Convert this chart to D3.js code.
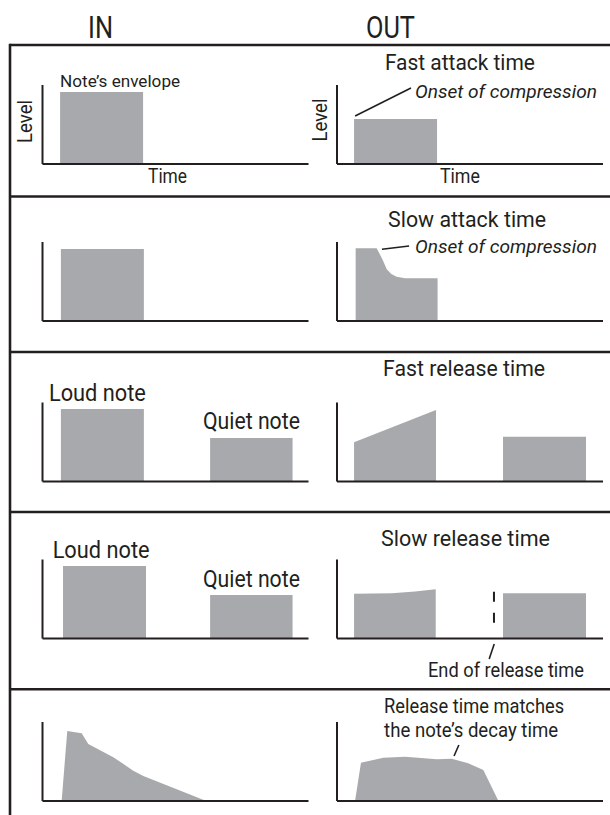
<!DOCTYPE html>
<html><head><meta charset="utf-8">
<script src="https://cdn.jsdelivr.net/npm/d3@7"></script>
<style>
body{margin:0;background:#fff}
svg{display:block}
text{font-family:Roboto,"Liberation Sans",Arial,sans-serif;fill:#231f20}
</style>
</head><body>
<svg id="chart" width="610" height="815"></svg>
<script>
// ---------- DATA ----------
const columns = ["IN", "OUT"];
const rowNames = ["Fast attack", "Slow attack", "Fast release", "Slow release", "Decay matched"];
// Envelope shapes: arrays of [time, level] (time 0-100 along axis, level 0-100 up axis)
const inRow1  = [[[6.8, 90.5], [38, 90.5]]];
const outRow1 = [[[6.6, 56.3], [37.8, 56.3]]];
const inRow2  = [[[7.1, 90.5], [38.3, 90.5]]];
const outRow2 = [[[7.2, 91.4], [15.1, 91.4], [17.2, 78], [18.9, 64.8], [20.6, 59], [22.6, 55.4], [25.8, 53.4], [38, 53.4]]];
const inRow3  = [[[7.1, 91.1], [38.3, 91.1]], [[63.2, 54.4], [94.2, 54.4]]];
const outRow3 = [[[6.6, 49], [37.4, 89.9]], [[62.6, 56.1], [93.8, 56.1]]];
const inRow4  = [[[7.9, 91.1], [39.1, 91.1]], [[63.2, 54.4], [94.2, 54.4]]];
const outRow4 = [[[6.6, 56.1], [20.8, 56.6], [29.5, 58.9], [37.3, 61.6]], [[62.6, 56.6], [93.8, 56.6]]];
const inRow5  = [[[7.4, 0], [9.5, 88], [14.9, 85.1], [17.4, 71.5], [26.8, 54.7], [30.5, 46.5], [34.3, 37.7], [38.1, 31], [61.3, 0]]];
const outRow5 = [[[7, 0], [9.2, 47.8], [17.6, 54.2], [25.8, 55.4], [37.7, 52.2], [43.3, 52.9], [49.5, 47.1], [55.2, 38.6], [60.8, 0]]];
const inShapes  = [inRow1, inRow2, inRow3, inRow4, inRow5];
const outShapes = [outRow1, outRow2, outRow3, outRow4, outRow5];

// Text labels: [row, col, text, time, level, anchor, size, italic, rotate, textLength]
const labels = [
  [0, 0, "Note\u2019s envelope", 6.8, 96.8, "start", 17, false, false, 120],
  [0, 0, "Level", -3.9, 53.2, "middle", 21, false, true, 43],
  [0, 0, "Time", 47.2, -24.7, "middle", 21, false, false, 39],
  [0, 1, "Level", -3.6, 55, "middle", 21, false, true, 43],
  [0, 1, "Time", 46.4, -24.7, "middle", 21, false, false, 40],
  [0, 1, "Fast attack time", 18.2, 118.4, "start", 22, false, false, 150],
  [0, 1, "Onset of compression", 29.5, 82.9, "start", 18.5, true, false, 182],
  [1, 1, "Slow attack time", 19.4, 118.4, "start", 22, false, false, 158],
  [1, 1, "Onset of compression", 29.5, 85.8, "start", 18.5, true, false, 182],
  [2, 0, "Loud note", 2.6, 101.3, "start", 23, false, false, 97],
  [2, 0, "Quiet note", 60.5, 65.8, "start", 23, false, false, 97],
  [2, 1, "Fast release time", 17.5, 132.9, "start", 22, false, false, 162],
  [3, 0, "Loud note", 4, 101.3, "start", 23, false, false, 97],
  [3, 0, "Quiet note", 60.5, 64.9, "start", 23, false, false, 97],
  [3, 1, "Slow release time", 16.7, 116.5, "start", 22, false, false, 169],
  [3, 1, "End of release time", 34.4, -49, "start", 21, false, false, 156],
  [4, 1, "Release time matches", 17.9, 110.8, "start", 20.5, false, false, 180],
  [4, 1, "the note\u2019s decay time", 17.9, 80.4, "start", 20.5, false, false, 174]
];
// Leader lines: [row, col, t1, L1, t2, L2]
const leaders = [
  [0, 1, 7, 60.1, 28, 95.6],
  [1, 1, 17.1, 90.1, 27.3, 94.3],
  [3, 1, 59.3, -7.6, 57.4, -26.6],
  [4, 1, 44.2, 56.3, 46, 70.3]
];
// Dashed marker (end of release): [row, col, time, levelTop, levelBottom]
const dashMarks = [[3, 1, 59.2, 58.6, 18.6]];

// ---------- LAYOUT ----------
const W = 610, H = 815;
const frameLeft = 10, frameTop = 45;
const separators = [196.5, 352, 512, 689.3];
const rowBaselines = [163.5, 320.5, 481, 638, 800.5];
const colAxisX = [42, 336.5];
const axisLen = 266, axisHeight = 79;
const ink = "#231f20", gray = "#a7a9ac";

const svg = d3.select("#chart");

// frame
svg.append("line").attr("x1", frameLeft).attr("x2", W).attr("y1", frameTop).attr("y2", frameTop)
  .attr("stroke", ink).attr("stroke-width", 2.6);
svg.append("line").attr("x1", frameLeft).attr("x2", frameLeft).attr("y1", frameTop - 1.3).attr("y2", H)
  .attr("stroke", ink).attr("stroke-width", 2.6);
svg.selectAll(".sep").data(separators).enter().append("line")
  .attr("x1", frameLeft).attr("x2", W).attr("y1", d => d).attr("y2", d => d)
  .attr("stroke", ink).attr("stroke-width", 2.5);

// column headers
const headerX = [100.5, 390.5];
const headerLen = [25, 49];
svg.selectAll(".hdr").data(columns).enter().append("text")
  .attr("x", (d, i) => headerX[i]).attr("y", 38)
  .attr("text-anchor", "middle").attr("font-size", 31)
  .attr("textLength", (d, i) => headerLen[i]).attr("lengthAdjust", "spacingAndGlyphs")
  .text(d => d);

const scales = [];
rowBaselines.forEach((b, r) => {
  scales[r] = colAxisX.map(ax => ({
    x: d3.scaleLinear().domain([0, 100]).range([ax, ax + axisLen]),
    y: d3.scaleLinear().domain([0, 100]).range([b, b - axisHeight])
  }));
});

// envelopes
[inShapes, outShapes].forEach((shapes, c) => {
  shapes.forEach((rowShapes, r) => {
    const s = scales[r][c];
    const area = d3.area().x(d => s.x(d[0])).y0(s.y(0)).y1(d => s.y(d[1]));
    svg.append("g").selectAll("path").data(rowShapes).enter().append("path")
      .attr("d", area).attr("fill", gray);
  });
});

// axes
rowBaselines.forEach((b, r) => {
  colAxisX.forEach((ax, c) => {
    const s = scales[r][c];
    const gx = svg.append("g").attr("transform", `translate(0,${b})`)
      .call(d3.axisBottom(s.x).ticks(0).tickSizeOuter(0));
    const gy = svg.append("g").attr("transform", `translate(${ax},0)`)
      .call(d3.axisLeft(s.y).ticks(0).tickSizeOuter(0));
    [gx, gy].forEach(g => g.select(".domain").attr("stroke", ink).attr("stroke-width", 2));
  });
});

// dashed markers
dashMarks.forEach(([r, c, t, l1, l2]) => {
  const s = scales[r][c];
  svg.append("line").attr("x1", s.x(t)).attr("x2", s.x(t)).attr("y1", s.y(l1)).attr("y2", s.y(l2))
    .attr("stroke", ink).attr("stroke-width", 2).attr("stroke-dasharray", "10,11");
});

// leaders
leaders.forEach(([r, c, t1, l1, t2, l2]) => {
  const s = scales[r][c];
  svg.append("line").attr("x1", s.x(t1)).attr("y1", s.y(l1)).attr("x2", s.x(t2)).attr("y2", s.y(l2))
    .attr("stroke", ink).attr("stroke-width", 1.6);
});

// labels
labels.forEach(([r, c, txt, t, l, anchor, size, italic, rot, len]) => {
  const s = scales[r][c];
  const x = s.x(t), y = s.y(l);
  const el = svg.append("text").attr("font-size", size).attr("text-anchor", anchor)
    .attr("font-style", italic ? "italic" : "normal")
    .attr("textLength", len).attr("lengthAdjust", "spacingAndGlyphs")
    .text(txt);
  if (rot) el.attr("transform", `translate(${x},${y}) rotate(-90)`);
  else el.attr("x", x).attr("y", y);
});
</script>
</body></html>
